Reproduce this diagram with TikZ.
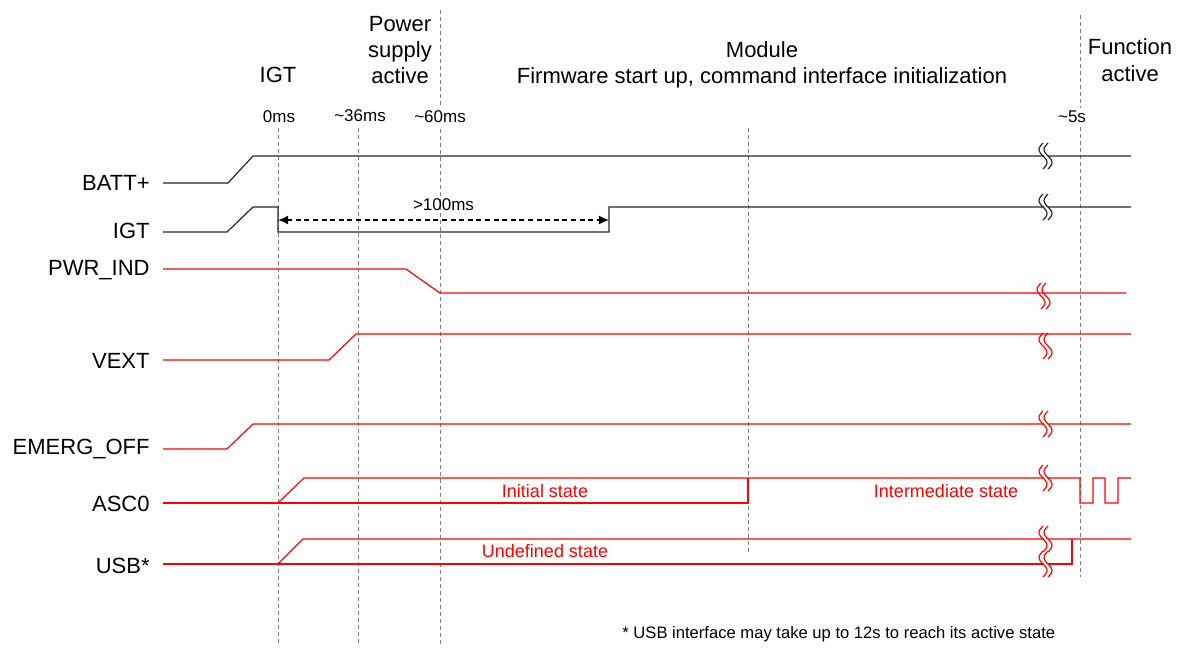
\documentclass[tikz,border=0pt]{standalone}
\usepackage{fontspec}
\usetikzlibrary{arrows.meta}
\setmainfont{Liberation Sans}
\definecolor{sigred}{RGB}{255,0,0}
\definecolor{markgray}{RGB}{128,128,128}
\tikzset{
  sig/.style={line width=0.6pt, black!85},
  sigr/.style={line width=0.6pt, sigred},
  marker/.style={markgray, line width=0.5pt, dash pattern=on 2pt off 1.5pt},
  phase/.style={font=\fontsize{11}{13.2}\selectfont, align=center, inner sep=0pt},
  tlbl/.style={font=\fontsize{8.5}{10}\selectfont, fill=white, inner sep=1.5pt},
  siglbl/.style={font=\fontsize{11}{13}\selectfont, anchor=east, inner sep=0pt},
  statelbl/.style={font=\fontsize{9}{11}\selectfont, text=sigred, inner sep=0pt},
  brk/.pic={
    \fill[white] (0.5,-2) rectangle (4.5,2);
    \foreach \o in {0,5}
      \draw plot[smooth, domain=-1:1, samples=17] ({\o+4*sin(180*\x)}, {13*\x});
  }
}
\begin{document}
\begin{tikzpicture}[x=0.5pt, y=-0.5pt]
    \useasboundingbox (0,0) rectangle (1181,650);

    % Linee di riferimento temporali
    \draw[marker] (278,128) -- (278,645);
    \draw[marker] (358,128) -- (358,645);
    \draw[marker] (440,10) -- (440,645);
    \draw[marker] (748,128) -- (748,553);
    \draw[marker] (1080,15) -- (1080,577);

    % Fasi
    \node[phase] (fIGT) at (278,75) {IGT};
    \node[phase] (fPower) at (400,50) {Power\\supply\\active};
    \node[phase] (fModule) at (762,65) {Module\\Firmware start up, command interface initialization};
    \node[phase] (fFunc) at (1130,60) {Function\\active};

    % Tempi
    \node[tlbl] (t0) at (279,117) {0ms};
    \node[tlbl] (t36) at (360,116) {\textasciitilde36ms};
    \node[tlbl] (t60) at (440,117) {\textasciitilde60ms};
    \node[tlbl] (t5s) at (1072,117) {\textasciitilde5s};

    % Nomi dei segnali
    \node[siglbl] (lBATT) at (150,183) {BATT+};
    \node[siglbl] (lIGT) at (150,231) {IGT};
    \node[siglbl] (lPWR) at (150,270) {PWR\_IND};
    \node[siglbl] (lVEXT) at (150,361) {VEXT};
    \node[siglbl] (lEMERG) at (150,449) {EMERG\_OFF};
    \node[siglbl] (lASC) at (150,504) {ASC0};
    \node[siglbl] (lUSB) at (150,566) {USB*};

    % Segnali neri
    \draw[sig] (163,183) -- (228,183) -- (253,156) -- (1131,156);
    \draw[sig] (163,232) -- (227,232) -- (253,207) -- (278,207) -- (278,232)
        -- (609,232) -- (609,207) -- (1131,207);

    % Quota >100ms
    \coordinate (igtOn) at (278,220);
    \coordinate (igtOff) at (609,220);
    \draw[{Latex[length=5pt,width=4.5pt]}-{Latex[length=5pt,width=4.5pt]}, line width=0.8pt,
        dash pattern=on 2.5pt off 1.8pt] (igtOn) -- (igtOff)
        node[midway, above=1pt, font=\fontsize{8.5}{10}\selectfont] {>100ms};

    % Segnali rossi
    \draw[sigr] (163,269) -- (406,269) -- (440,293) -- (1126,293);
    \draw[sigr] (163,360) -- (329,360) -- (356,334) -- (1131,334);
    \draw[sigr] (163,449) -- (227,449) -- (253,424) -- (1131,424);
    \draw[sigr] (163,503) -- (748,503) -- (748,478);
    \draw[sigr] (278,503) -- (304,478) -- (1080,478) -- (1080,503) -- (1093,503)
        -- (1093,478) -- (1105,478) -- (1105,503) -- (1118,503) -- (1118,478) -- (1131,478);
    \draw[sigr] (163,564) -- (1072,564) -- (1072,539);
    \draw[sigr] (278,564) -- (303,539) -- (1131,539);

    % Stati
    \node[statelbl] (sInit) at (545,491) {Initial state};
    \node[statelbl] (sInter) at (946,491) {Intermediate state};
    \node[statelbl] (sUndef) at (545,551) {Undefined state};

    % Interruzioni
    \pic[sig] at (1043,156) {brk};
    \pic[sig] at (1043,207) {brk};
    \pic[sigr] at (1041,296) {brk};
    \pic[sigr] at (1043,346) {brk};
    \pic[sigr] at (1043,424) {brk};
    \pic[sigr] at (1043,478) {brk};
    \pic[sigr] at (1043,539) {brk};
    \pic[sigr] at (1043,564) {brk};

    % Nota
    \node[anchor=west, inner sep=0pt, font=\fontsize{8.3}{10}\selectfont] (note) at (622,634)
        {* USB interface may take up to 12s to reach its active state};
\end{tikzpicture}
\end{document}
